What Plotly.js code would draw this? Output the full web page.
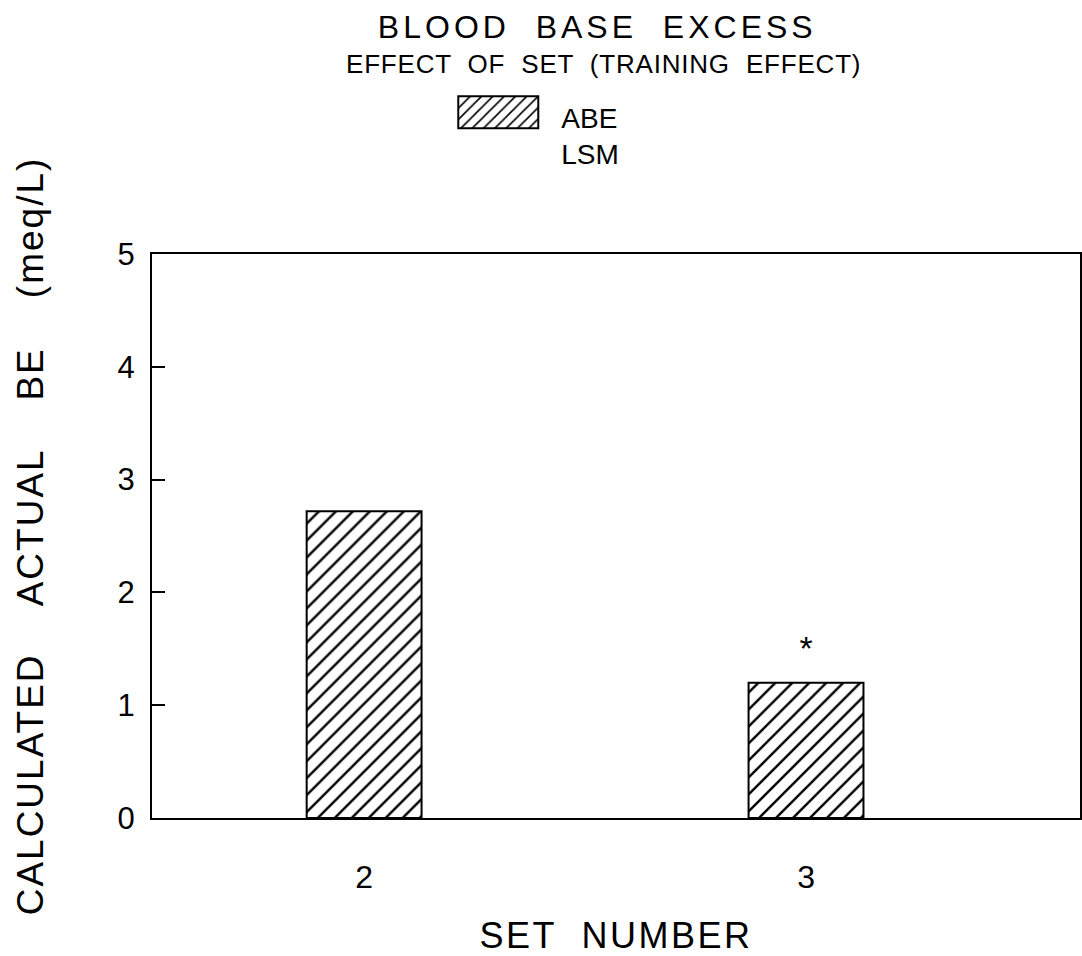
<!DOCTYPE html>
<html>
<head>
<meta charset="utf-8">
<script src="https://cdn.plot.ly/plotly-3.0.1.min.js"></script>
<style>html,body{margin:0;padding:0;background:#fff;}</style>
</head>
<body>
<div id="chart" style="width:1082px;height:956px;"></div>
<script>
const setNumbers = [2, 3];
const abeValues = [2.72, 1.20];
const yTicks = [0, 1, 2, 3, 4, 5];
const sigMarks = ['', '*'];

const F = 'Liberation Sans, Arial, sans-serif';

const trace = {
  type: 'bar',
  x: setNumbers,
  y: abeValues,
  width: 0.26,
  name: 'ABE<br>LSM',
  marker: {
    color: 'white',
    line: {color: 'black', width: 2},
    pattern: {shape: '/', size: 12, solidity: 0.2, fgcolor: 'black', bgcolor: 'white'}
  },
  showlegend: true
};

const anns = [];
setNumbers.forEach((s, i) => {
  if (sigMarks[i]) {
    anns.push({x: s, y: abeValues[i], yshift: 14, yanchor: 'bottom', showarrow: false,
      text: sigMarks[i], font: {family: F, size: 34, color: 'black'}});
  }
});
anns.push({xref: 'paper', yref: 'paper', x: 0.487, y: 1.337, xanchor: 'center', yanchor: 'middle', showarrow: false,
  text: 'EFFECT  OF  SET  (TRAINING  EFFECT)', font: {family: F, size: 26, color: 'black'}});

const layout = {
  width: 1082, height: 956,
  margin: {l: 152, r: 2, t: 254, b: 138},
  paper_bgcolor: 'white', plot_bgcolor: 'white',
  title: {text: 'BLOOD  BASE  EXCESS', x: 0.552, xanchor: 'center', y: 0.972, yanchor: 'middle',
          font: {family: F, size: 32, color: 'black'}},
  showlegend: true,
  legend: {x: 0.3225, y: 1.287, xanchor: 'left', yanchor: 'top', valign: 'top',
           font: {family: F, size: 28, color: 'black'}, bgcolor: 'rgba(0,0,0,0)', itemwidth: 100},
  xaxis: {
    range: [1.52, 3.62], tickvals: setNumbers, ticktext: setNumbers.map(String),
    showgrid: false, zeroline: false, showline: true, linecolor: 'black', linewidth: 2, mirror: true,
    ticks: '', tickfont: {family: F, size: 32, color: 'black'}, ticklabelstandoff: 30,
    title: {text: 'SET  NUMBER', font: {family: F, size: 36, color: 'black'}, standoff: 34}
  },
  yaxis: {
    range: [0, 5], tickvals: yTicks, ticktext: yTicks.map(String),
    showgrid: false, zeroline: false, showline: true, linecolor: 'black', linewidth: 2, mirror: true,
    ticks: 'inside', ticklen: 13, tickwidth: 2, tickcolor: 'black',
    tickfont: {family: F, size: 31, color: 'black'}, ticklabelstandoff: 9,
    title: {text: 'CALCULATED    ACTUAL    BE    (meq/L)', font: {family: F, size: 37, color: 'black'}, standoff: 63}
  },
  annotations: anns
};

Plotly.newPlot('chart', [trace], layout, {displayModeBar: false, staticPlot: true}).then(gd => {
  // letter spacing like the plotter lettering
  const sp = (sel, v) => gd.querySelectorAll(sel).forEach(t => t.style.letterSpacing = v);
  sp('.gtitle', '4px');
  sp('.ytitle', '2px');
  sp('.xtitle', '2.5px');
  sp('.annotation-text', '0.8px');
  // enlarge legend swatch to a wide hatched box left of the label
  const path = gd.querySelector('.legend .legendpoints path');
  const txt = gd.querySelector('.legend .legendtext');
  if (path && txt) {
    const line = txt.querySelector('tspan') || txt;
    const r = line.getBoundingClientRect();
    const cy = r.top + r.height / 2 - 6;
    const x0 = r.left - 103, x1 = r.left - 23, y0 = cy - 16, y1 = cy + 16;
    const m = path.getScreenCTM().inverse();
    const svg = path.ownerSVGElement;
    const pt = (x, y) => { const p = svg.createSVGPoint(); p.x = x; p.y = y; return p.matrixTransform(m); };
    const a = pt(x0, y0), b = pt(x1, y1);
    path.setAttribute('d', `M${a.x},${a.y}H${b.x}V${b.y}H${a.x}Z`);
    path.style.strokeWidth = '2px';
  }
});
</script>
</body>
</html>
